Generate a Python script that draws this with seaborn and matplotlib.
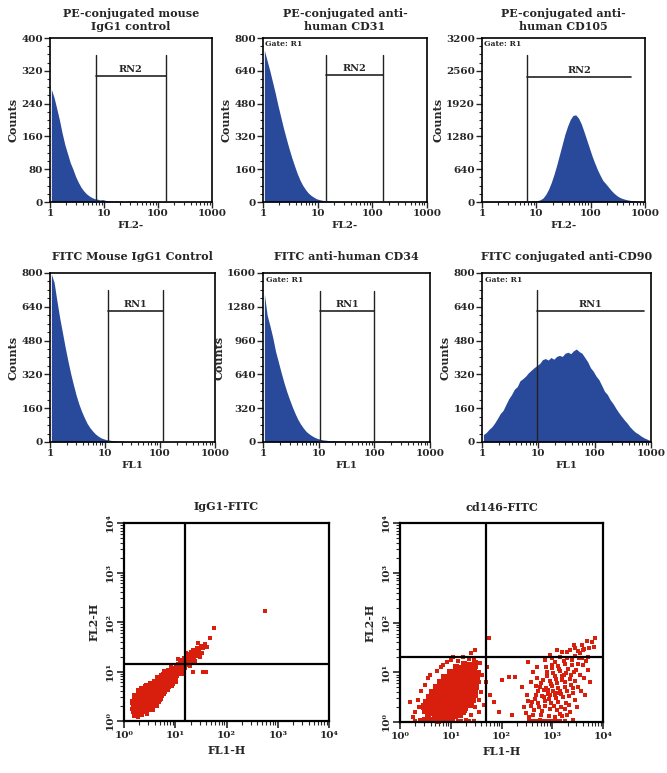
import numpy as np
import pandas as pd
import matplotlib
matplotlib.use('Agg')
import matplotlib.pyplot as plt
import seaborn as sns

sns.set_style('ticks')
plt.rcParams['font.family'] = ['DejaVu Serif', 'DejaVu Sans']
plt.rcParams['font.weight'] = 'bold'
plt.rcParams['axes.labelweight'] = 'bold'
plt.rcParams['axes.titleweight'] = 'bold'

BLUE = '#29499b'
RED = '#d81e0c'

# histogram counts, one value per 0.05-decade channel from 1 to 1000
pe_igg1 = [275, 255, 228, 200, 168, 140, 118, 96, 80, 62, 48, 36, 27, 20, 15, 11, 8, 7, 5, 6,
           4, 3, 3, 2, 3, 2, 2, 1, 2, 2, 3, 2, 1, 2, 1, 2, 2, 1, 2, 1,
           2, 1, 2, 1, 1, 1, 0, 1, 1, 0, 1, 0, 1, 0, 0, 1, 0, 0, 0, 0]
pe_cd31 = [740, 690, 640, 585, 530, 470, 415, 360, 310, 262, 218, 178, 140, 108, 82, 62, 45, 33, 24, 16,
           12, 9, 7, 6, 5, 4, 3, 4, 3, 3, 2, 3, 2, 2, 3, 2, 2, 1, 2, 2,
           1, 2, 1, 1, 2, 1, 1, 1, 1, 0, 1, 1, 0, 1, 0, 0, 1, 0, 0, 0]
pe_cd105 = [12, 15, 14, 16, 13, 15, 17, 14, 16, 18, 15, 17, 19, 16, 18, 20, 22, 19, 24, 26,
            30, 45, 80, 150, 250, 380, 540, 720, 920, 1120, 1320, 1480, 1610, 1690, 1700, 1640, 1530, 1380, 1220, 1060,
            900, 760, 630, 520, 420, 360, 295, 230, 175, 130, 95, 72, 55, 42, 32, 25, 20, 16, 13, 10]
fitc_igg1 = [795, 755, 670, 590, 520, 450, 385, 325, 272, 222, 180, 145, 115, 88, 68, 52, 38, 28, 20, 15,
             11, 9, 7, 6, 5, 4, 4, 3, 3, 2, 3, 2, 2, 2, 1, 2, 1, 2, 1, 1,
             2, 1, 1, 1, 0, 1, 1, 0, 1, 0, 1, 0, 0, 1, 0, 0, 0, 0, 0, 0]
fitc_cd34 = [1400, 1200, 1100, 990, 860, 760, 660, 565, 480, 405, 335, 272, 215, 170, 132, 100, 78, 60, 45, 34,
             26, 20, 17, 14, 12, 11, 10, 9, 9, 8, 8, 8, 7, 7, 7, 6, 6, 6, 5, 5,
             5, 5, 4, 4, 4, 4, 3, 3, 3, 3, 3, 2, 2, 2, 2, 2, 2, 2, 3, 2]
fitc_cd90 = [35, 45, 60, 72, 90, 112, 135, 150, 178, 205, 225, 250, 262, 290, 300, 312, 328, 340, 352, 362,
             372, 390, 395, 388, 400, 392, 405, 410, 405, 420, 425, 418, 432, 440, 428, 420, 400, 380, 352, 335,
             312, 295, 268, 240, 225, 200, 182, 160, 140, 122, 105, 90, 72, 58, 46, 38, 28, 20, 14, 8]

# scatter events, (log10 FL1-H, log10 FL2-H)
igg1_core = [(0.22, 0.26), (0.26, 0.20), (0.25, 0.33), (0.30, 0.28), (0.31, 0.19), (0.29, 0.38), (0.34, 0.24),
             (0.35, 0.33), (0.33, 0.42), (0.38, 0.28), (0.39, 0.38), (0.37, 0.47), (0.40, 0.20), (0.42, 0.33),
             (0.43, 0.43), (0.41, 0.52), (0.45, 0.27), (0.46, 0.38), (0.47, 0.48), (0.45, 0.57), (0.49, 0.32),
             (0.50, 0.42), (0.51, 0.53), (0.49, 0.62), (0.53, 0.37), (0.54, 0.47), (0.55, 0.58), (0.57, 0.42),
             (0.58, 0.52), (0.59, 0.63), (0.56, 0.68), (0.61, 0.46), (0.62, 0.57), (0.63, 0.67), (0.65, 0.51),
             (0.66, 0.61), (0.67, 0.72), (0.69, 0.56), (0.70, 0.66), (0.71, 0.76), (0.73, 0.61), (0.74, 0.71),
             (0.75, 0.80), (0.77, 0.66), (0.78, 0.75), (0.79, 0.85), (0.81, 0.70), (0.82, 0.80), (0.83, 0.89),
             (0.85, 0.75), (0.86, 0.84), (0.87, 0.93), (0.89, 0.79), (0.90, 0.88), (0.91, 0.97), (0.93, 0.83),
             (0.94, 0.92), (0.95, 1.01), (0.97, 0.87), (0.98, 0.96), (0.99, 1.05), (1.01, 0.92), (1.02, 1.00),
             (1.03, 1.09), (1.05, 0.96), (1.06, 1.05), (1.07, 1.13), (1.09, 1.01), (1.10, 1.09), (1.11, 1.17),
             (1.13, 1.06), (1.14, 1.13), (1.15, 1.21), (1.17, 1.10), (1.18, 1.18), (1.19, 1.25), (1.21, 1.15),
             (1.22, 1.22), (1.23, 1.29), (1.25, 1.19), (1.26, 1.26), (1.27, 1.33), (1.30, 1.24), (1.31, 1.31),
             (1.32, 1.38), (1.35, 1.29), (1.36, 1.36), (1.37, 1.42), (1.40, 1.34), (1.41, 1.41), (1.44, 1.39),
             (1.45, 1.46), (0.28, 0.45), (0.32, 0.52), (0.36, 0.20), (0.42, 0.60), (0.52, 0.30), (0.48, 0.25),
             (0.60, 0.40), (0.35, 0.55), (0.25, 0.42), (0.58, 0.70), (0.64, 0.45), (0.20, 0.32), (0.30, 0.15),
             (0.55, 0.25), (0.62, 0.33), (0.68, 0.45), (0.72, 0.52), (0.30, 0.60), (0.36, 0.64), (0.44, 0.70),
             (0.52, 0.74), (0.60, 0.78), (0.76, 0.56), (0.84, 0.64), (0.66, 0.86), (0.74, 0.90), (0.92, 0.72),
             (0.80, 0.98), (1.00, 0.80), (0.88, 1.02), (0.22, 0.50), (0.18, 0.38), (0.26, 0.12)]
igg1_sparse = [(0.18, 0.18), (0.20, 0.10), (0.27, 0.08), (0.35, 0.12), (0.44, 0.15), (0.23, 0.45), (0.30, 0.50),
               (0.38, 0.58), (0.52, 0.22), (0.60, 0.33), (0.48, 0.72), (0.72, 0.45), (0.80, 0.58), (0.63, 0.80),
               (0.88, 0.68), (0.76, 0.95), (0.95, 0.75), (1.00, 0.82), (0.92, 1.10), (1.15, 0.95), (1.05, 1.25),
               (1.28, 1.12), (1.20, 1.38), (1.38, 1.22), (1.48, 1.30), (1.50, 1.52), (1.55, 1.47), (1.58, 1.56),
               (1.62, 1.50), (1.45, 1.58), (1.68, 1.68), (1.76, 1.88), (2.76, 2.23), (1.60, 1.00), (1.55, 0.98),
               (1.35, 1.00), (0.15, 0.25), (0.40, 0.70), (0.68, 0.38), (1.52, 1.38)]

cd146_core = [(0.55, 0.12), (0.68, 0.08), (0.81, 0.13), (0.94, 0.09), (1.09, 0.12),
              (0.49, 0.22), (0.62, 0.18), (0.74, 0.23), (0.87, 0.19), (0.99, 0.22), (1.12, 0.18), (1.24, 0.21),
              (0.47, 0.31), (0.58, 0.28), (0.70, 0.33), (0.82, 0.29), (0.93, 0.32), (1.05, 0.28), (1.17, 0.31),
              (1.29, 0.29), (0.52, 0.41), (0.64, 0.38), (0.75, 0.42), (0.87, 0.39), (0.98, 0.43), (1.10, 0.38),
              (1.22, 0.41), (1.34, 0.39), (0.57, 0.51), (0.68, 0.48), (0.80, 0.52), (0.91, 0.49), (1.02, 0.52),
              (1.14, 0.48), (1.26, 0.51), (1.38, 0.49), (0.63, 0.61), (0.74, 0.58), (0.85, 0.62), (0.96, 0.59),
              (1.07, 0.62), (1.19, 0.58), (1.31, 0.61), (1.42, 0.59), (0.70, 0.71), (0.81, 0.68), (0.92, 0.72),
              (1.03, 0.69), (1.13, 0.72), (1.24, 0.68), (1.36, 0.71), (0.78, 0.81), (0.89, 0.78), (0.99, 0.82),
              (1.09, 0.79), (1.19, 0.82), (1.30, 0.78), (1.41, 0.81), (0.87, 0.91), (0.97, 0.88), (1.07, 0.92),
              (1.17, 0.89), (1.27, 0.92), (1.37, 0.88), (0.98, 1.01), (1.08, 0.98), (1.18, 1.02), (1.28, 0.99),
              (1.38, 1.02), (1.10, 1.11), (1.21, 1.08), (1.31, 1.12), (1.42, 1.09),
              (0.50, 0.04), (0.62, 0.05), (0.75, 0.03), (0.88, 0.05), (1.00, 0.04),
              (0.56, 0.15), (0.68, 0.16), (0.80, 0.14), (0.93, 0.16), (1.05, 0.15), (1.18, 0.14),
              (0.53, 0.26), (0.65, 0.25), (0.77, 0.27), (0.90, 0.25), (1.02, 0.26), (1.15, 0.24), (1.27, 0.25),
              (0.57, 0.36), (0.69, 0.35), (0.81, 0.36), (0.93, 0.34), (1.04, 0.36), (1.16, 0.35), (1.28, 0.36),
              (1.39, 0.34), (0.62, 0.46), (0.74, 0.45), (0.86, 0.46), (0.97, 0.44), (1.08, 0.46), (1.20, 0.45),
              (1.32, 0.46), (1.44, 0.44), (0.68, 0.56), (0.80, 0.55), (0.91, 0.56), (1.02, 0.54), (1.13, 0.56),
              (1.25, 0.55), (1.37, 0.56), (1.48, 0.54), (0.75, 0.66), (0.86, 0.65), (0.97, 0.66), (1.08, 0.64),
              (1.19, 0.66), (1.30, 0.65), (1.42, 0.66), (1.50, 0.70), (0.84, 0.76), (0.94, 0.75), (1.04, 0.76),
              (1.14, 0.74), (1.25, 0.76), (1.36, 0.75), (1.47, 0.76), (0.93, 0.86), (1.03, 0.85), (1.13, 0.86),
              (1.23, 0.84), (1.33, 0.86), (1.44, 0.85), (1.52, 0.88), (1.03, 0.96), (1.13, 0.95), (1.23, 0.96),
              (1.33, 0.94), (1.44, 0.96), (1.53, 0.98), (1.14, 1.06), (1.25, 1.05), (1.35, 1.06), (1.46, 1.04),
              (1.26, 1.16), (1.37, 1.15), (1.48, 1.18)]
cd146_pos = [(2.65, 0.25), (2.80, 0.22), (2.95, 0.27), (3.10, 0.24), (3.25, 0.26),
             (2.60, 0.40), (2.72, 0.38), (2.85, 0.42), (2.98, 0.39), (3.12, 0.41), (3.28, 0.38),
             (2.68, 0.55), (2.80, 0.53), (2.92, 0.57), (3.05, 0.54), (3.18, 0.56), (3.33, 0.53),
             (2.75, 0.70), (2.88, 0.68), (3.00, 0.72), (3.12, 0.69), (3.25, 0.71), (3.40, 0.68),
             (2.82, 0.85), (2.95, 0.83), (3.08, 0.87), (3.20, 0.84), (3.35, 0.86),
             (2.90, 1.00), (3.02, 0.98), (3.15, 1.02), (3.28, 0.99), (3.42, 1.01),
             (3.00, 1.15), (3.12, 1.13), (3.25, 1.17), (3.38, 1.14), (3.50, 1.16),
             (3.15, 1.30), (3.30, 1.28), (3.45, 1.32), (3.58, 1.29), (3.35, 1.45), (3.50, 1.43), (3.62, 1.46),
             (2.58, 0.32), (2.66, 0.47), (2.71, 0.62), (2.74, 0.30), (2.78, 0.78), (2.83, 0.50), (2.86, 0.33),
             (2.89, 0.92), (2.91, 0.64), (2.94, 0.46), (2.97, 0.76), (2.99, 1.08), (3.02, 0.62), (3.04, 0.33),
             (3.06, 0.93), (3.08, 0.48), (3.10, 0.78), (3.13, 1.06), (3.15, 0.62), (3.17, 0.30), (3.19, 0.92),
             (3.22, 0.50), (3.23, 1.22), (3.26, 0.80), (3.29, 0.62), (3.31, 1.07), (3.33, 0.35), (3.36, 0.95),
             (3.39, 1.24), (3.41, 0.58), (3.44, 0.82), (3.47, 1.05), (3.52, 1.28), (3.55, 1.38), (3.48, 0.30),
             (3.57, 0.62), (2.62, 0.15), (2.70, 0.88), (2.77, 0.15), (2.93, 0.13), (3.15, 0.16), (3.30, 0.14),
             (2.87, 1.10), (3.00, 1.28), (3.20, 1.40), (3.66, 1.22), (3.62, 0.88), (3.70, 1.05), (3.45, 1.48),
             (3.58, 1.55), (3.30, 1.40), (3.05, 1.20), (2.96, 0.55), (3.10, 0.58), (2.83, 0.65), (3.24, 0.95),
             (3.37, 0.75), (2.67, 0.72), (2.52, 0.42), (2.48, 0.18)]
cd146_sparse = [(0.30, 0.20), (0.35, 0.45), (0.40, 0.05), (0.42, 0.62), (0.45, 0.35), (0.38, 0.30), (0.50, 0.75),
                (0.55, 0.88), (0.60, 0.95), (0.65, 0.02), (0.72, 1.02), (0.80, 1.10), (0.85, 1.15), (0.92, 1.20),
                (1.00, 1.25), (1.05, 1.30), (1.15, 1.22), (1.25, 1.30), (1.35, 1.27), (1.40, 1.38), (1.48, 1.45),
                (1.45, 1.28), (1.50, 1.10), (1.52, 0.95), (1.55, 0.80), (1.50, 0.65), (1.55, 0.45), (1.48, 0.30),
                (1.40, 0.15), (1.30, 0.05), (1.55, 0.20), (1.60, 0.60), (1.62, 0.95), (1.65, 0.35), (1.58, 1.18),
                (0.20, 0.40), (0.25, 0.10),
                (0.30, 0.02), (0.42, 0.02), (0.55, 0.02), (0.62, 0.02), (0.75, 0.02), (0.85, 0.02), (0.90, 0.02),
                (1.05, 0.02), (1.15, 0.02), (1.20, 0.02), (1.35, 0.02), (1.45, 0.02),
                (1.70, 0.80), (1.78, 0.55), (1.75, 1.68), (1.85, 0.40), (2.00, 0.85), (2.14, 0.91), (2.27, 0.90),
                (1.95, 0.20), (2.20, 0.15), (1.72, 1.10),
                (2.55, 0.02), (2.60, 0.02), (2.70, 0.02), (2.78, 0.02), (2.85, 0.02), (2.92, 0.02), (3.00, 0.02),
                (3.08, 0.02), (3.25, 0.02), (2.65, 0.02), (2.88, 0.02), (2.96, 0.02), (3.15, 0.02),
                (2.45, 0.30), (2.50, 0.55), (2.55, 0.10), (2.58, 0.80), (2.62, 1.00), (2.70, 1.10), (2.75, 0.05),
                (2.85, 1.25), (2.95, 1.35), (3.05, 0.10), (3.20, 0.12), (3.35, 0.20), (3.45, 0.45), (3.50, 0.70),
                (3.55, 0.95), (3.60, 1.15), (3.65, 0.55), (3.70, 1.30), (3.72, 1.48), (3.78, 1.60), (3.85, 1.68),
                (3.82, 1.50), (3.68, 1.62), (3.42, 1.55), (3.60, 1.45), (3.75, 0.80), (3.40, 0.05), (2.40, 0.70),
                (2.52, 1.20), (3.10, 1.45)]

W, H = 667, 773
fig = plt.figure(figsize=(W / 100, H / 100), dpi=100)


def px_axes(l, t, r, b):
    return fig.add_axes([l / W, 1 - b / H, (r - l) / W, (b - t) / H])


centers = np.arange(60) * 0.05 + 0.025
minor_log = np.log10([k * 10 ** d for d in range(3) for k in range(2, 10)])


def hist_panel(ax, counts, ymax, title, xlabel, gate, rn, show_gate, tpad):
    df = pd.DataFrame({'channel': centers, 'count': np.asarray(counts, dtype=float)})
    sns.histplot(data=df, x='channel', weights='count', binwidth=0.05, binrange=(0, 3),
                 element='poly', ax=ax, color=BLUE, alpha=1, linewidth=0)
    ax.set_xlim(0, 3)
    ax.set_ylim(0, ymax)
    ax.set_xticks([0, 1, 2, 3])
    ax.set_xticklabels(['1', '10', '100', '1000'])
    ax.set_xticks(minor_log, minor=True)
    ax.set_yticks(np.linspace(0, ymax, 6))
    ax.set_yticklabels([str(int(v)) for v in np.linspace(0, ymax, 6)])
    ax.set_yticks(np.linspace(0, ymax, 21), minor=True)
    ax.tick_params(axis='both', which='major', length=4, width=1, labelsize=7.5, pad=1)
    ax.tick_params(axis='both', which='minor', length=2, width=0.8)
    for s in ax.spines.values():
        s.set_visible(True)
        s.set_linewidth(1.2)
        s.set_color('black')
    for lab in ax.get_xticklabels() + ax.get_yticklabels():
        lab.set_fontweight('bold')
    ax.set_title(title, fontsize=8, pad=tpad, linespacing=1.15)
    ax.set_xlabel(xlabel, fontsize=7.5, labelpad=2)
    ax.set_ylabel('Counts', fontsize=8, labelpad=2)
    left, right, vtop, hy, right_line = gate
    ax.plot([left, left], [0, vtop], color='#222222', lw=1.0, zorder=5)
    if right_line:
        ax.plot([right, right], [0, vtop], color='#222222', lw=1.0, zorder=5)
    ax.plot([left, right], [hy, hy], color='#222222', lw=1.2, zorder=5)
    ax.text((left + right) / 2, hy + ymax * 0.012, rn, ha='center', va='bottom',
            fontsize=7, fontweight='bold')
    if show_gate:
        ax.text(0.015, 0.985, 'Gate: R1', transform=ax.transAxes, ha='left', va='top',
                fontsize=5.5, fontweight='bold')


ax = px_axes(50, 38, 212, 202)
hist_panel(ax, pe_igg1, 400, 'PE-conjugated mouse\nIgG1 control', 'FL2-',
           (0.845, 2.14, 359, 308, True), 'RN2', False, 6)
ax = px_axes(263, 38, 427, 202)
hist_panel(ax, pe_cd31, 800, 'PE-conjugated anti-\nhuman CD31', 'FL2-',
           (1.15, 2.20, 719, 621, True), 'RN2', True, 6)
ax = px_axes(482, 38, 645, 202)
hist_panel(ax, pe_cd105, 3200, 'PE-conjugated anti-\nhuman CD105', 'FL2-',
           (0.82, 2.75, 2875, 2439, False), 'RN2', True, 6)
ax = px_axes(50, 273, 215, 442)
hist_panel(ax, fitc_igg1, 800, 'FITC Mouse IgG1 Control', 'FL1',
           (1.05, 2.05, 721, 620, True), 'RN1', False, 9)
ax = px_axes(263, 273, 430, 442)
hist_panel(ax, fitc_cd34, 1600, 'FITC anti-human CD34', 'FL1',
           (1.02, 2.00, 1426, 1236, True), 'RN1', True, 9)
ax = px_axes(482, 273, 651, 442)
hist_panel(ax, fitc_cd90, 800, 'FITC conjugated anti-CD90', 'FL1',
           (0.98, 2.87, 721, 618, False), 'RN1', True, 9)

dec_labels = ['10\u2070', '10\u00b9', '10\u00b2', '10\u00b3', '10\u2074']


def scatter_panel(ax, core, sparse, mid, title, qx, qy, core_size):
    cx, cy = zip(*core)
    sx, sy = zip(*sparse)
    sns.scatterplot(x=10 ** np.array(cx), y=10 ** np.array(cy), ax=ax, color=RED,
                    s=core_size, linewidth=0, marker='s', clip_on=False)
    if mid:
        mx, my = zip(*mid)
        sns.scatterplot(x=10 ** np.array(mx), y=10 ** np.array(my), ax=ax, color=RED,
                        s=8, linewidth=0, marker='s', clip_on=False)
    sns.scatterplot(x=10 ** np.array(sx), y=10 ** np.array(sy), ax=ax, color=RED,
                    s=5, linewidth=0, marker='s', clip_on=False)
    ax.set_xscale('log')
    ax.set_yscale('log')
    ax.set_xlim(1, 1e4)
    ax.set_ylim(1, 1e4)
    ax.axvline(qx, color='black', lw=1.6, zorder=5)
    ax.axhline(qy, color='black', lw=1.6, zorder=5)
    ticks = [1, 10, 100, 1000, 10000]
    ax.set_xticks(ticks)
    ax.set_xticklabels(dec_labels)
    ax.set_yticks(ticks)
    ax.set_yticklabels(dec_labels, rotation=90, va='center')
    ax.tick_params(axis='both', which='major', length=5, width=1.2, labelsize=7.5, pad=2)
    ax.tick_params(axis='both', which='minor', length=3, width=0.8)
    for s in ax.spines.values():
        s.set_visible(True)
        s.set_linewidth(1.6)
        s.set_color('black')
    for lab in ax.get_xticklabels() + ax.get_yticklabels():
        lab.set_fontweight('bold')
    ax.set_title(title, fontsize=8, pad=9)
    ax.set_xlabel('FL1-H', fontsize=8, labelpad=4)
    ax.set_ylabel('FL2-H', fontsize=8, labelpad=4)


ax = px_axes(124, 523, 329, 721)
scatter_panel(ax, igg1_core, igg1_sparse, None, 'IgG1-FITC', 15.7, 14.2, 20)
ax = px_axes(400, 523, 603, 722)
scatter_panel(ax, cd146_core, cd146_sparse, cd146_pos, 'cd146-FITC', 50, 20, 22)

fig.savefig('out.png', dpi=100)
